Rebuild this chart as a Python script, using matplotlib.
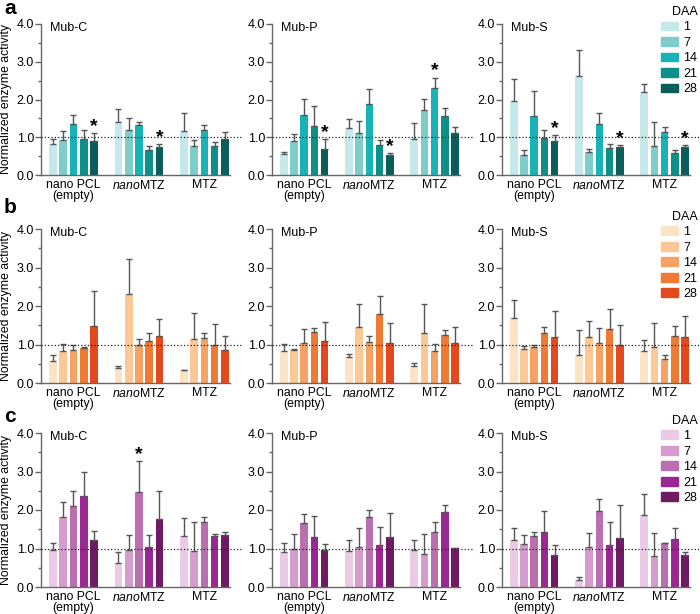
import matplotlib.pyplot as plt
import numpy as np
from matplotlib.patches import Patch

plt.rcParams['font.family'] = ['Liberation Sans', 'DejaVu Sans']
plt.rcParams['mathtext.fontset'] = 'custom'
plt.rcParams['mathtext.it'] = 'Liberation Sans:italic'
plt.rcParams['mathtext.rm'] = 'Liberation Sans'

groups = ['nano PCL\n(empty)', r'$\mathit{nano}$MTZ', 'MTZ']
daa = ['1', '7', '14', '21', '28']
substrates = ['Mub-C', 'Mub-P', 'Mub-S']
panel_letters = ['a', 'b', 'c']

teal = ['#c5e8ea', '#7fcdcb', '#18b3b6', '#0c9089', '#0a5d5a']
orange = ['#fde3c6', '#fcc896', '#f6a265', '#ef7a33', '#e4491d']
purple = ['#ebcae6', '#d59ccd', '#b96fb0', '#9a2892', '#6e1b64']

# rows: groups (nano PCL, nanoMTZ, MTZ), columns: DAA 1,7,14,21,28
a_mubc_mean = [[0.81, 0.93, 1.35, 0.95, 0.90], [1.40, 1.19, 1.32, 0.66, 0.74], [1.17, 0.78, 1.19, 0.76, 0.96]]
a_mubc_err = [[0.15, 0.24, 0.23, 0.24, 0.22], [0.34, 0.32, 0.08, 0.12, 0.07], [0.46, 0.16, 0.13, 0.12, 0.18]]
a_mubp_mean = [[0.56, 0.90, 1.58, 1.31, 0.70], [1.25, 1.10, 1.87, 0.80, 0.54], [0.96, 1.71, 2.30, 1.55, 1.10]]
a_mubp_err = [[0.04, 0.19, 0.44, 0.51, 0.25], [0.23, 0.33, 0.41, 0.13, 0.03], [0.42, 0.31, 0.28, 0.23, 0.16]]
a_mubs_mean = [[1.97, 0.52, 1.57, 0.97, 0.90], [2.62, 0.61, 1.36, 0.72, 0.74], [2.19, 0.78, 1.13, 0.57, 0.73]]
a_mubs_err = [[0.57, 0.15, 0.65, 0.22, 0.16], [0.70, 0.09, 0.27, 0.10, 0.06], [0.23, 0.62, 0.13, 0.08, 0.06]]

b_mubc_mean = [[0.56, 0.84, 0.87, 0.91, 1.49], [0.39, 2.31, 1.00, 1.08, 1.21], [0.33, 1.14, 1.17, 1.00, 0.87]]
b_mubc_err = [[0.17, 0.18, 0.12, 0.03, 0.91], [0.05, 0.91, 0.15, 0.23, 0.45], [0.02, 0.68, 0.13, 0.52, 0.36]]
b_mubp_mean = [[0.84, 0.87, 1.05, 1.32, 1.10], [0.68, 1.46, 1.06, 1.79, 1.04], [0.43, 1.29, 0.84, 1.25, 1.03]]
b_mubp_err = [[0.17, 0.02, 0.35, 0.11, 0.49], [0.07, 0.60, 0.16, 0.46, 0.51], [0.08, 0.76, 0.17, 0.12, 0.42]]
b_mubs_mean = [[1.68, 0.88, 0.94, 1.29, 1.19], [0.72, 1.19, 1.05, 1.39, 0.98], [0.84, 0.93, 0.63, 1.23, 1.20]]
b_mubs_err = [[0.47, 0.07, 0.05, 0.16, 0.68], [0.65, 0.41, 0.37, 0.52, 0.52], [0.27, 0.63, 0.11, 0.26, 0.55]]

c_mubc_mean = [[0.96, 1.81, 2.11, 2.37, 1.21], [0.63, 0.95, 2.47, 1.03, 1.76], [1.32, 0.94, 1.68, 1.32, 1.36]]
c_mubc_err = [[0.19, 0.41, 0.39, 0.61, 0.25], [0.28, 0.39, 0.79, 0.31, 0.74], [0.48, 0.76, 0.13, 0.05, 0.06]]
c_mubp_mean = [[0.90, 1.00, 1.65, 1.30, 0.96], [0.93, 1.05, 1.83, 1.08, 1.29], [0.97, 0.87, 1.44, 1.95, 1.01]]
c_mubp_err = [[0.25, 0.37, 0.24, 0.54, 0.15], [0.29, 0.47, 0.17, 0.49, 0.62], [0.26, 0.50, 0.24, 0.18, 0.01]]
c_mubs_mean = [[1.23, 1.12, 1.32, 1.42, 0.84], [0.19, 1.05, 1.97, 1.09, 1.26], [1.88, 0.80, 1.13, 1.24, 0.83]]
c_mubs_err = [[0.29, 0.22, 0.11, 0.55, 0.26], [0.07, 0.36, 0.32, 0.59, 0.87], [0.54, 0.61, 0.01, 0.30, 0.08]]

# significance stars: (row, column, group, DAA index)
stars = [(0, 0, 0, 4), (0, 0, 1, 4),
         (0, 1, 0, 4), (0, 1, 1, 4), (0, 1, 2, 2),
         (0, 2, 0, 4), (0, 2, 1, 4), (0, 2, 2, 4),
         (2, 0, 1, 2)]

means = [[a_mubc_mean, a_mubp_mean, a_mubs_mean],
         [b_mubc_mean, b_mubp_mean, b_mubs_mean],
         [c_mubc_mean, c_mubp_mean, c_mubs_mean]]
errs = [[a_mubc_err, a_mubp_err, a_mubs_err],
        [b_mubc_err, b_mubp_err, b_mubs_err],
        [c_mubc_err, c_mubp_err, c_mubs_err]]
palettes = [teal, orange, purple]

W, H = 700, 614
fig = plt.figure(figsize=(7.0, 6.14), dpi=100)

row_px = [(24, 175), (229, 383), (433, 587)]
col_px = [(41, 230), (272, 460), (502, 690)]
letter_y = [8, 208, 417]

group_step = 6.4
bar_w = 0.75
axis_grey = '#666666'

for r in range(3):
    for c in range(3):
        top, bot = row_px[r]
        left, right = col_px[c]
        ax = fig.add_axes([left / W, 1 - bot / H, (right - left) / W, (bot - top) / H])
        m = np.array(means[r][c])
        e = np.array(errs[r][c])
        cols = palettes[r]
        for i in range(5):
            x = np.arange(3) * group_step + i
            ax.bar(x, m[:, i], width=bar_w, color=cols[i], zorder=2)
            ax.errorbar(x, m[:, i], yerr=[np.zeros(3), e[:, i]], fmt='none',
                        ecolor='#555555', elinewidth=1, capsize=2, capthick=1, zorder=3)
        for (sr, sc, g, i) in stars:
            if sr == r and sc == c:
                ax.text(g * group_step + i, m[g, i] + e[g, i] - 0.05, '*', ha='center', va='bottom',
                        fontsize=14, fontweight='bold', zorder=4)

        ax.set_xlim(-1.175, 2 * group_step + 4 + 0.5)
        ax.set_ylim(0, 4)
        ax.plot([-1.175, 2 * group_step + 4 + 1.8], [1, 1], ls=':', color='#222222', lw=0.9,
                clip_on=False, zorder=5)
        for s in ['top', 'right']:
            ax.spines[s].set_visible(False)
        for s in ['left', 'bottom']:
            ax.spines[s].set_color(axis_grey)
            ax.spines[s].set_linewidth(1)
        ax.set_yticks([0, 1, 2, 3, 4])
        ax.set_yticklabels(['0.0', '1.0', '2.0', '3.0', '4.0'])
        ax.set_yticks(np.arange(0.5, 4, 1.0), minor=True)
        ax.tick_params(axis='y', which='major', direction='out', length=4, width=1,
                       color=axis_grey, labelsize=9, pad=1)
        ax.tick_params(axis='y', which='minor', direction='out', length=2, width=1, color=axis_grey)
        ax.set_xticks(np.arange(3) * group_step + 2)
        ax.set_xticklabels(groups, linespacing=0.85)
        ax.tick_params(axis='x', length=0, labelsize=8.8, pad=3)
        ax.text(0.05, 0.975, substrates[c], transform=ax.transAxes, ha='left', va='center', fontsize=9)

        if c == 0:
            ax.set_ylabel('Normalized enzyme activity', fontsize=8.8)
            ax.yaxis.set_label_coords(-0.155, 0.5)
        if c == 2:
            handles = [Patch(color=cols[i]) for i in range(5)]
            ax.legend(handles, daa, title='DAA', loc='upper right', bbox_to_anchor=(1.04, 1.12),
                      frameon=False, fontsize=9, title_fontsize=9, handlelength=1.35,
                      handleheight=0.7, labelspacing=0.28, handletextpad=0.45,
                      borderpad=0, borderaxespad=0, alignment='right')

    fig.text(4 / W, 1 - letter_y[r] / H, panel_letters[r], fontsize=15, fontweight='bold',
             ha='left', va='center')

fig.savefig('out.png', dpi=100)
